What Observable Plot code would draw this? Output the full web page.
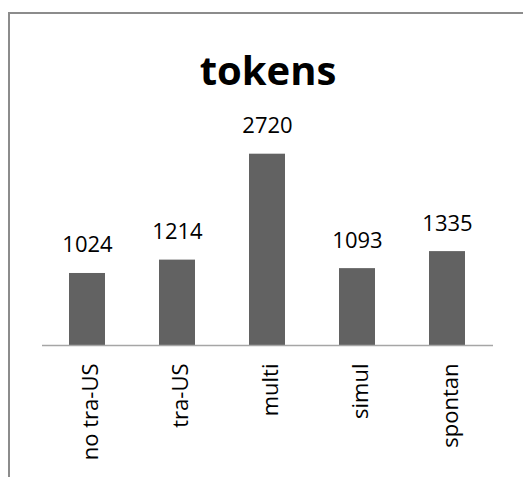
<!DOCTYPE html>
<html>
<head>
<meta charset="utf-8">
<script src="https://cdn.jsdelivr.net/npm/d3@7"></script>
<script src="https://cdn.jsdelivr.net/npm/@observablehq/plot@0.6"></script>
<style>
  html, body { margin: 0; padding: 0; background: #fff; }
  #wrap { position: relative; width: 523px; height: 477px; overflow: hidden; }
  #border { position: absolute; left: 8px; top: 12px; width: 540px; height: 500px;
            border-top: 2px solid #8c8c8c; border-left: 2px solid #8c8c8c; pointer-events: none; }
</style>
</head>
<body>
<div id="wrap"><div id="border"></div></div>
<script>
const title = "tokens";
const categories = ["no tra-US", "tra-US", "multi", "simul", "spontan"];
const values = [1024, 1214, 2720, 1093, 1335];

const data = categories.map((c, i) => ({category: c, value: values[i]}));
const font = "'Open Sans', 'Noto Sans', sans-serif";

const chart = Plot.plot({
  width: 523,
  height: 477,
  marginLeft: 42,
  marginRight: 30,
  marginTop: 134,
  marginBottom: 132,
  style: {fontFamily: font, fontSize: "22px", color: "#000", background: "transparent"},
  x: {domain: categories, paddingInner: 0.6, paddingOuter: 0.3, label: null},
  y: {domain: [0, 3000], axis: null},
  marks: [
    Plot.barY(data, {x: "category", y: "value", fill: "#626262"}),
    Plot.ruleY([0], {stroke: "#a6a6a6", strokeWidth: 1.5}),
    Plot.text(data, {x: "category", y: "value", text: d => String(d.value), lineAnchor: "bottom", dy: -21, fill: "#000", fontSize: 22}),
    Plot.axisX({tickRotate: -90, tickSize: 0, tickPadding: 18, dx: 3, label: null, fontSize: 22, fill: "#000"}),
    Plot.text([title], {frameAnchor: "top", lineAnchor: "bottom", dy: -50, fontSize: 40, fontWeight: "bold", fill: "#000"})
  ]
});
document.getElementById("wrap").appendChild(chart);
chart.style.position = "absolute";
chart.style.left = "0px";
chart.style.top = "0px";
</script>
</body>
</html>
